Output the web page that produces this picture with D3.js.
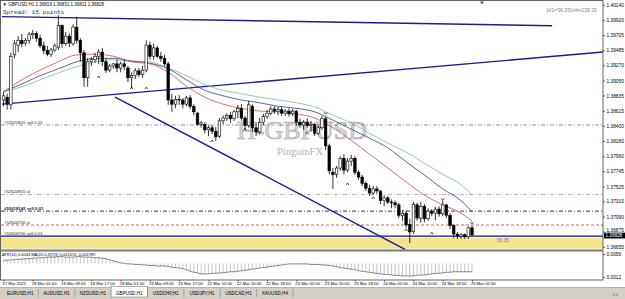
<!DOCTYPE html>
<html>
<head>
<meta charset="utf-8">
<script src="https://cdnjs.cloudflare.com/ajax/libs/d3/7.8.5/d3.min.js"></script>
<style>
html, body { margin: 0; padding: 0; background: #fff; overflow: hidden; }
svg { display: block; font-family: "Liberation Sans", Arial, sans-serif; }
</style>
</head>
<body>
<svg id="chart" width="625" height="299"></svg>
<script>
// ---- values ----
const symbolTitle = "\u25BC GBPUSD,H1  1.36819 1.36831 1.36811 1.36828";
const spreadText = "Spread: 15 points";
const rangeText = "|H1=56.35|H4=238.35";
const atrTitle = "ATR(14) 0.0034  MA(20,0,3)T(3) 0.001474 -0.001789";
const watermark = "H-GBPUSD";
const watermarkSub = "PinguinFX";

const timeLabels = ["17 Mar 2021", "18 Mar 01:00", "18 Mar 09:00", "18 Mar 17:00", "19 Mar 01:00",
  "19 Mar 09:00", "19 Mar 17:00", "22 Mar 02:00", "22 Mar 10:00", "22 Mar 18:00", "23 Mar 02:00",
  "23 Mar 10:00", "23 Mar 18:00", "24 Mar 02:00", "24 Mar 10:00", "24 Mar 18:00", "25 Mar 02:00"];
const timeTickBars = [0, 8, 16, 24, 32, 40, 48, 56, 64, 72, 80, 88, 96, 104, 112, 120, 128];

const priceTicks = [1.40140, 1.39920, 1.39705, 1.39485, 1.39270, 1.39050, 1.38835, 1.38615, 1.38400,
  1.38180, 1.37960, 1.37745, 1.37525, 1.37310, 1.37090, 1.36875, 1.36655];
const atrTicks = [0.0056, 0.0012];

// H1 candles: open, high, low, close
const bars = [
  [1.3877, 1.3889, 1.3868, 1.3883], [1.3881, 1.3886, 1.3863, 1.3871], [1.3870, 1.3945, 1.3863, 1.3940],
  [1.3942, 1.3963, 1.3937, 1.3958], [1.3956, 1.3969, 1.3946, 1.3963], [1.3963, 1.3972, 1.3953, 1.3958],
  [1.3959, 1.3966, 1.3955, 1.3963], [1.3963, 1.3975, 1.3958, 1.3971], [1.3971, 1.3978, 1.3965, 1.3973],
  [1.3973, 1.3976, 1.3961, 1.3966], [1.3966, 1.3971, 1.3952, 1.3955], [1.3955, 1.3961, 1.3943, 1.3948],
  [1.3948, 1.3955, 1.3940, 1.3943], [1.3943, 1.3952, 1.3939, 1.3949], [1.3949, 1.3958, 1.3946, 1.3955],
  [1.3953, 1.3999, 1.3949, 1.3984], [1.3984, 1.3986, 1.3952, 1.3958], [1.3958, 1.3975, 1.3955, 1.3969],
  [1.3969, 1.3973, 1.3953, 1.3959], [1.3958, 1.3986, 1.3955, 1.3982], [1.3982, 1.3997, 1.3958, 1.3963],
  [1.3963, 1.3966, 1.3932, 1.3945], [1.3945, 1.3949, 1.3896, 1.3909], [1.3909, 1.3937, 1.3896, 1.3932],
  [1.3932, 1.3939, 1.3926, 1.3935], [1.3935, 1.3945, 1.3930, 1.3940], [1.3940, 1.3950, 1.3929, 1.3946],
  [1.3946, 1.3952, 1.3926, 1.3932], [1.3932, 1.3937, 1.3916, 1.3920], [1.3920, 1.3929, 1.3917, 1.3926],
  [1.3926, 1.3930, 1.3922, 1.3929], [1.3929, 1.3935, 1.3917, 1.3923], [1.3923, 1.3932, 1.3917, 1.3929],
  [1.3929, 1.3935, 1.3920, 1.3925], [1.3923, 1.3926, 1.3903, 1.3909], [1.3909, 1.3917, 1.3894, 1.3912],
  [1.3912, 1.3923, 1.3907, 1.3919], [1.3919, 1.3923, 1.3910, 1.3914], [1.3914, 1.3926, 1.3909, 1.3920],
  [1.3920, 1.3963, 1.3917, 1.3956], [1.3956, 1.3961, 1.3935, 1.3940], [1.3940, 1.3958, 1.3935, 1.3952],
  [1.3952, 1.3955, 1.3937, 1.3940], [1.3940, 1.3946, 1.3932, 1.3937], [1.3937, 1.3942, 1.3926, 1.3929],
  [1.3929, 1.3932, 1.3870, 1.3877], [1.3877, 1.3886, 1.3860, 1.3871], [1.3871, 1.3883, 1.3865, 1.3878],
  [1.3878, 1.3884, 1.3870, 1.3877], [1.3877, 1.3880, 1.3865, 1.3871], [1.3871, 1.3883, 1.3868, 1.3880],
  [1.3880, 1.3884, 1.3864, 1.3868], [1.3868, 1.3871, 1.3855, 1.3860], [1.3858, 1.3860, 1.3840, 1.3842],
  [1.3842, 1.3847, 1.3837, 1.3844], [1.3842, 1.3845, 1.3829, 1.3834], [1.3834, 1.3840, 1.3825, 1.3837],
  [1.3837, 1.3841, 1.3828, 1.3832], [1.3832, 1.3838, 1.3818, 1.3824], [1.3825, 1.3851, 1.3822, 1.3847],
  [1.3847, 1.3855, 1.3842, 1.3851], [1.3851, 1.3858, 1.3847, 1.3855], [1.3855, 1.3860, 1.3844, 1.3850],
  [1.3850, 1.3863, 1.3847, 1.3860], [1.3860, 1.3870, 1.3851, 1.3865], [1.3865, 1.3871, 1.3847, 1.3851],
  [1.3851, 1.3854, 1.3834, 1.3840], [1.3840, 1.3876, 1.3837, 1.3870], [1.3868, 1.3871, 1.3831, 1.3837],
  [1.3837, 1.3845, 1.3825, 1.3831], [1.3831, 1.3851, 1.3828, 1.3845], [1.3845, 1.3857, 1.3841, 1.3853],
  [1.3853, 1.3863, 1.3850, 1.3858], [1.3858, 1.3868, 1.3855, 1.3864], [1.3864, 1.3868, 1.3857, 1.3861],
  [1.3861, 1.3867, 1.3855, 1.3863], [1.3863, 1.3867, 1.3854, 1.3858], [1.3858, 1.3864, 1.3854, 1.3861],
  [1.3861, 1.3865, 1.3853, 1.3857], [1.3857, 1.3864, 1.3854, 1.3861], [1.3861, 1.3863, 1.3840, 1.3845],
  [1.3845, 1.3850, 1.3837, 1.3841], [1.3841, 1.3848, 1.3834, 1.3845], [1.3845, 1.3851, 1.3837, 1.3840],
  [1.3840, 1.3847, 1.3832, 1.3842], [1.3842, 1.3844, 1.3825, 1.3829], [1.3829, 1.3840, 1.3827, 1.3837],
  [1.3837, 1.3854, 1.3834, 1.3850], [1.3850, 1.3853, 1.3805, 1.3811], [1.3811, 1.3814, 1.3770, 1.3775],
  [1.3773, 1.3779, 1.3749, 1.3770], [1.3770, 1.3782, 1.3765, 1.3779], [1.3779, 1.3796, 1.3775, 1.3793],
  [1.3793, 1.3799, 1.3770, 1.3776], [1.3776, 1.3793, 1.3773, 1.3789], [1.3789, 1.3798, 1.3782, 1.3793],
  [1.3793, 1.3796, 1.3769, 1.3773], [1.3773, 1.3776, 1.3762, 1.3766], [1.3766, 1.3769, 1.3753, 1.3757],
  [1.3757, 1.3760, 1.3746, 1.3750], [1.3750, 1.3755, 1.3739, 1.3743], [1.3743, 1.3753, 1.3740, 1.3749],
  [1.3749, 1.3753, 1.3742, 1.3746], [1.3746, 1.3747, 1.3727, 1.3732], [1.3732, 1.3740, 1.3724, 1.3736],
  [1.3736, 1.3739, 1.3727, 1.3730], [1.3730, 1.3734, 1.3721, 1.3729], [1.3729, 1.3732, 1.3721, 1.3726],
  [1.3726, 1.3729, 1.3707, 1.3711], [1.3711, 1.3719, 1.3703, 1.3714], [1.3714, 1.3717, 1.3693, 1.3697],
  [1.3698, 1.3706, 1.3671, 1.3687], [1.3688, 1.3730, 1.3684, 1.3727], [1.3726, 1.3729, 1.3703, 1.3707],
  [1.3707, 1.3730, 1.3700, 1.3724], [1.3724, 1.3727, 1.3701, 1.3706], [1.3706, 1.3721, 1.3703, 1.3717],
  [1.3717, 1.3720, 1.3710, 1.3714], [1.3714, 1.3723, 1.3704, 1.3720], [1.3720, 1.3724, 1.3709, 1.3713],
  [1.3713, 1.3732, 1.3710, 1.3726], [1.3726, 1.3727, 1.3707, 1.3711], [1.3711, 1.3714, 1.3691, 1.3696],
  [1.3696, 1.3698, 1.3678, 1.3684], [1.3684, 1.3687, 1.3677, 1.3681], [1.3681, 1.3685, 1.3677, 1.3683],
  [1.3683, 1.3685, 1.3677, 1.3680], [1.3680, 1.3695, 1.3677, 1.3693], [1.3693, 1.3696, 1.3680, 1.36828]
];

// moving averages, sampled every 5 bars
const maIdx = [0, 5, 10, 15, 20, 25, 30, 35, 40, 45, 50, 55, 60, 65, 70, 75, 80, 85, 90, 95, 100, 105, 110, 115, 120, 125, 128];
const maFast = [1.3889, 1.3906, 1.3920, 1.3932, 1.3942, 1.3943, 1.3940, 1.3932, 1.3929, 1.3917, 1.3897, 1.3881, 1.3871,
  1.3865, 1.3861, 1.3860, 1.3857, 1.3851, 1.3837, 1.3819, 1.3799, 1.3779, 1.3759, 1.3740, 1.3726, 1.3714, 1.3703];
const maMid = [1.3889, 1.3900, 1.3912, 1.3922, 1.3932, 1.3937, 1.3937, 1.3933, 1.3930, 1.3922, 1.3906, 1.3891, 1.3883,
  1.3877, 1.3873, 1.3868, 1.3865, 1.3860, 1.3848, 1.3835, 1.3822, 1.3808, 1.3788, 1.3769, 1.3749, 1.3732, 1.3716];
const maSlow = [1.3889, 1.3896, 1.3906, 1.3916, 1.3925, 1.3932, 1.3935, 1.3933, 1.3932, 1.3923, 1.3912, 1.3899, 1.3891,
  1.3886, 1.3881, 1.3877, 1.3873, 1.3867, 1.3855, 1.3844, 1.3829, 1.3815, 1.3802, 1.3786, 1.3770, 1.3755, 1.3740];

// sub-window indicator, one value per bar
const atr = [
  0.0044, 0.0044, 0.0045, 0.0045, 0.0046, 0.0046, 0.0047, 0.0047, 0.0048,
  0.0048, 0.0049, 0.0049, 0.0050, 0.0050, 0.0050, 0.0051, 0.0051, 0.0050, 0.0050,
  0.0050, 0.0051, 0.0051, 0.0050, 0.0050, 0.0050, 0.0049, 0.0049, 0.0048,
  0.0047, 0.0045, 0.0043, 0.0041,
  0.0039, 0.0038, 0.0037, 0.0037, 0.0036, 0.0036, 0.0035, 0.0035, 0.0034,
  0.0034, 0.0033, 0.0033, 0.0033, 0.0032,
  0.0031, 0.0030, 0.0029, 0.0028,
  0.0026, 0.0023, 0.0021, 0.0020,
  0.0018, 0.0018, 0.0018, 0.0019, 0.0019, 0.0020, 0.0020,
  0.0021, 0.0022, 0.0022, 0.0023, 0.0024,
  0.0025, 0.0026, 0.0027, 0.0028, 0.0029,
  0.0030, 0.0031, 0.0032, 0.0033, 0.0034, 0.0035, 0.0036,
  0.0037, 0.0037, 0.0037, 0.0037, 0.0037, 0.0037, 0.0036, 0.0036, 0.0036,
  0.0035, 0.0035, 0.0034, 0.0033, 0.0032,
  0.0030, 0.0029, 0.0028, 0.0027, 0.0026,
  0.0024, 0.0023, 0.0022, 0.0021, 0.0020,
  0.0019, 0.0018, 0.0017, 0.0017, 0.0016,
  0.0015, 0.0015, 0.0014, 0.0014, 0.0014, 0.0014,
  0.0015, 0.0016, 0.0016, 0.0017, 0.0018,
  0.0019, 0.0019, 0.0020, 0.0021, 0.0021,
  0.0022, 0.0022, 0.0022, 0.0022, 0.0022, 0.0022
];
const atrBase = 0.0038;

// trend lines: [bar, price] end points
const trendTop = [[-0.4, 1.3997], [149.9, 1.3984]];
const trendRising = [[-0.4, 1.3871], [163.8, 1.3946]];
const trendFalling = [[30.5, 1.3881], [109.7, 1.3662]];

// order lines
const orderPrices = [1.3841, 1.3741, 1.3717, 1.3697, 1.3681];
const orderLabels = ["#52620815 sell 0.01", "#52620815 sl", "#52618142 sell 0.01", "#52606700 sl", "#52606700 sell 0.01"];
const bidPrice = 1.36828;

// yellow zone
const zoneTop = 1.3679;
const zoneBottom = 1.3663;
const zoneText = "56.35";
const zoneTextPos = [134.8, 1.3675];

// fractal arrows: [bar, price]
const upArrows = [[26, 1.3910], [35, 1.3894], [39, 1.3894], [57, 1.3818], [66, 1.3835], [83, 1.3829],
  [94, 1.3756], [101, 1.3736], [110, 1.3690], [117, 1.3685]];
const downArrows = [[88, 1.3858], [120, 1.3734], [128, 1.3700]];

const tabs = ["EURUSD,H1", "AUDUSD,H1", "NZDUSD,H1", "GBPUSD,H1", "USDCHF,H1", "USDJPY,H1", "USDCAD,H1", "XAUUSD,H4"];
const activeTab = "GBPUSD,H1";

// ---- drawing ----
const svg = d3.select("#chart");
const width = 625, height = 299;
const plotRight = 603;
const main = {top: 1, bottom: 250};
const sub = {top: 251, bottom: 280};

const x = d3.scaleLinear().domain([0, 128]).range([3.5, 472]);
const y = d3.scaleLinear().domain([1.3661, 1.40181]).range([250, 2]);
const yAtr = d3.scaleLinear().domain([0.0012, 0.0056]).range([277, 254]);

svg.append("rect").attr("width", width).attr("height", height).attr("fill", "#fff");

const defs = svg.append("defs");
defs.append("clipPath").attr("id", "clipMain")
  .append("rect").attr("x", 1).attr("y", main.top).attr("width", plotRight - 1).attr("height", main.bottom - main.top);
defs.append("clipPath").attr("id", "clipSub")
  .append("rect").attr("x", 1).attr("y", sub.top).attr("width", plotRight - 1).attr("height", sub.bottom - sub.top);

const g = svg.append("g").attr("clip-path", "url(#clipMain)");

// watermark behind everything
g.append("text")
  .attr("x", 302).attr("y", 139)
  .attr("text-anchor", "middle")
  .attr("font-family", "'Liberation Serif', 'DejaVu Serif', serif")
  .attr("font-size", 26)
  .attr("fill", "#d6d6d6")
  .attr("stroke", "#a9a9a9")
  .attr("stroke-width", 0.6)
  .text(watermark);
g.append("text")
  .attr("x", 300).attr("y", 155)
  .attr("text-anchor", "middle")
  .attr("font-family", "'Liberation Serif', 'DejaVu Serif', serif")
  .attr("font-size", 10.5)
  .attr("fill", "#b4b4b4")
  .text(watermarkSub);

// yellow zone
g.append("rect")
  .attr("x", 1).attr("width", plotRight - 1)
  .attr("y", y(zoneTop)).attr("height", y(zoneBottom) - y(zoneTop))
  .attr("fill", "#f2e58e");

// order lines
const orderStyles = [
  {color: "#7c7c7c", dash: "4,2,1,2", width: 0.8},
  {color: "#b8909a", dash: "4,2,1,2", width: 0.8},
  {color: "#222222", dash: "4,2,1,2", width: 0.9},
  {color: "#a04848", dash: "3,2", width: 0.8},
  {color: "#101080", dash: null, width: 1.2}
];
orderPrices.forEach((p, i) => {
  const s = orderStyles[i];
  g.append("line")
    .attr("x1", 1).attr("x2", plotRight)
    .attr("y1", y(p)).attr("y2", y(p))
    .attr("stroke", s.color)
    .attr("stroke-width", s.width)
    .attr("stroke-dasharray", s.dash);
  g.append("text")
    .attr("x", 4).attr("y", y(p) - 1.4)
    .attr("font-size", 4.3)
    .attr("font-weight", i === 2 ? "bold" : "normal")
    .attr("fill", "#222")
    .text(orderLabels[i]);
});

g.append("text")
  .attr("x", x(zoneTextPos[0])).attr("y", y(zoneTextPos[1]) + 1.5)
  .attr("font-size", 4.8)
  .attr("fill", "#7a6ad8")
  .text(zoneText);

// trend lines
const tline = d3.line().x(d => x(d[0])).y(d => y(d[1]));
[trendTop, trendRising, trendFalling].forEach(t => {
  g.append("path")
    .attr("d", tline(t))
    .attr("fill", "none")
    .attr("stroke", "#1c1c94")
    .attr("stroke-width", 1.4);
});

// moving averages
const maLine = d3.line().x((d, i) => x(maIdx[i])).y(d => y(d)).curve(d3.curveMonotoneX);
[[maSlow, "#78bca8"], [maMid, "#3a3a7c"], [maFast, "#c05050"]].forEach(([s, c]) => {
  g.append("path")
    .attr("d", maLine(s))
    .attr("fill", "none")
    .attr("stroke", c)
    .attr("stroke-width", 0.8);
});

// candles
const candle = g.append("g").selectAll("g").data(bars).join("g");
candle.append("line")
  .attr("x1", (d, i) => x(i)).attr("x2", (d, i) => x(i))
  .attr("y1", d => y(d[1])).attr("y2", d => y(d[2]))
  .attr("stroke", "#000").attr("stroke-width", 0.8);
candle.append("rect")
  .attr("x", (d, i) => x(i) - 1.3)
  .attr("width", 2.6)
  .attr("y", d => y(Math.max(d[0], d[3])))
  .attr("height", d => Math.max(0.8, Math.abs(y(d[0]) - y(d[3]))))
  .attr("fill", d => d[3] >= d[0] ? "#fff" : "#000")
  .attr("stroke", "#000").attr("stroke-width", 0.6);

// fractal arrows
g.append("g").selectAll("path").data(upArrows).join("path")
  .attr("d", d => `M${x(d[0]) - 1.5},${y(d[1]) + 1} L${x(d[0])},${y(d[1]) - 1} L${x(d[0]) + 1.5},${y(d[1]) + 1}`)
  .attr("fill", "none").attr("stroke", "#000").attr("stroke-width", 0.7);
g.append("g").selectAll("path").data(downArrows).join("path")
  .attr("d", d => `M${x(d[0]) - 1.5},${y(d[1]) - 1} L${x(d[0])},${y(d[1]) + 1} L${x(d[0]) + 1.5},${y(d[1]) - 1}`)
  .attr("fill", "none").attr("stroke", "#000").attr("stroke-width", 0.7);

// header texts
svg.append("text").attr("x", 2.5).attr("y", 6.3).attr("font-size", 4.5).attr("fill", "#000").text(symbolTitle);
svg.append("text").attr("x", 3).attr("y", 13.5)
  .attr("font-family", "'Liberation Mono', 'DejaVu Sans Mono', monospace")
  .attr("font-size", 6).attr("fill", "#30304c").text(spreadText);
svg.append("text").attr("x", 597).attr("y", 11.5).attr("text-anchor", "end")
  .attr("font-size", 5.2).attr("fill", "#8a8a8a").text(rangeText);
// chart shift marker
svg.append("path").attr("d", "M480,1.5 L484,1.5 L482,4.5 Z").attr("fill", "#555");

// price axis
const yAxis = d3.axisRight(y).tickValues(priceTicks).tickFormat(d3.format(".5f")).tickSize(2).tickPadding(1.5);
const ya = svg.append("g").attr("transform", `translate(${plotRight},0)`).call(yAxis);
ya.select(".domain").remove();
ya.selectAll("line").attr("stroke", "#000").attr("stroke-width", 0.6);
ya.selectAll("text").attr("font-size", 4.8).attr("fill", "#000").attr("font-family", "'Liberation Sans', Arial, sans-serif");
// the label just above the bid box sits a little higher, as in the terminal
ya.selectAll(".tick").filter(d => d === 1.36875).select("text").attr("dy", "-0.05em");

// bid box
svg.append("rect").attr("x", plotRight + 1).attr("y", y(bidPrice) - 2.2).attr("width", 21).attr("height", 5.8).attr("fill", "#000");
svg.append("text").attr("x", plotRight + 2.5).attr("y", y(bidPrice) + 2.3).attr("font-size", 4.6).attr("fill", "#fff")
  .text(d3.format(".5f")(bidPrice));

// sub window: indicator
const gs = svg.append("g").attr("clip-path", "url(#clipSub)");
gs.append("g").selectAll("line").data(atr).join("line")
  .attr("x1", (d, i) => x(i)).attr("x2", (d, i) => x(i))
  .attr("y1", yAtr(atrBase)).attr("y2", d => yAtr(d))
  .attr("stroke", "#a0a0a0").attr("stroke-width", 0.6);
gs.append("path")
  .attr("d", d3.line().x((d, i) => x(i)).y(d => yAtr(d))(atr))
  .attr("fill", "none").attr("stroke", "#6a6a6a").attr("stroke-width", 0.8);
svg.append("text").attr("x", 2).attr("y", 256).attr("font-size", 4).attr("fill", "#000").text(atrTitle);

const atrAxis = d3.axisRight(yAtr).tickValues(atrTicks).tickFormat(d3.format(".4f")).tickSize(2).tickPadding(1.5);
const aa = svg.append("g").attr("transform", `translate(${plotRight},0)`).call(atrAxis);
aa.select(".domain").remove();
aa.selectAll("line").attr("stroke", "#000").attr("stroke-width", 0.6);
aa.selectAll("text").attr("font-size", 4.8).attr("fill", "#000").attr("font-family", "'Liberation Sans', Arial, sans-serif");

// frames
svg.append("rect").attr("x", 0.5).attr("y", 0.5).attr("width", plotRight - 0.5).attr("height", main.bottom - 0.5)
  .attr("fill", "none").attr("stroke", "#404040").attr("stroke-width", 0.8);
svg.append("rect").attr("x", 0.5).attr("y", sub.top).attr("width", plotRight - 0.5).attr("height", sub.bottom - sub.top)
  .attr("fill", "none").attr("stroke", "#404040").attr("stroke-width", 0.8);

// time axis
const xAxis = d3.axisBottom(x).tickValues(timeTickBars).tickFormat((d, i) => timeLabels[i]).tickSize(1.5).tickPadding(1);
const xa = svg.append("g").attr("transform", `translate(0,${sub.bottom})`).call(xAxis);
xa.select(".domain").remove();
xa.selectAll("line").attr("stroke", "#000").attr("stroke-width", 0.6);
xa.selectAll("text")
  .attr("text-anchor", "start").attr("dx", -1.5)
  .attr("font-size", 4.2).attr("fill", "#000").attr("font-family", "'Liberation Sans', Arial, sans-serif");

// tab bar
svg.append("rect").attr("x", 0).attr("y", 287).attr("width", width).attr("height", 12).attr("fill", "#d4d0c8");
svg.append("line").attr("x1", 0).attr("x2", width).attr("y1", 287.5).attr("y2", 287.5).attr("stroke", "#a0a0a0").attr("stroke-width", 0.6);
const tabX = d3.scaleBand().domain(tabs).range([2, 293]);
const tab = svg.append("g").selectAll("g").data(tabs).join("g");
tab.filter(d => d === activeTab).append("rect")
  .attr("x", d => tabX(d)).attr("y", 286.5).attr("width", tabX.bandwidth()).attr("height", 10.5)
  .attr("fill", "#fff").attr("stroke", "#808080").attr("stroke-width", 0.6);
tab.append("line")
  .attr("x1", d => tabX(d) + tabX.bandwidth()).attr("x2", d => tabX(d) + tabX.bandwidth())
  .attr("y1", 289).attr("y2", 297)
  .attr("stroke", "#808080").attr("stroke-width", 0.6);
tab.append("text")
  .attr("x", d => tabX(d) + tabX.bandwidth() / 2).attr("y", 295.3)
  .attr("text-anchor", "middle").attr("font-size", 4.6).attr("fill", "#000")
  .text(d => d);
svg.append("text").attr("x", 612).attr("y", 295.5).attr("font-size", 4.5).attr("fill", "#909090").text("\u25C2 \u25B8");
</script>
</body>
</html>
